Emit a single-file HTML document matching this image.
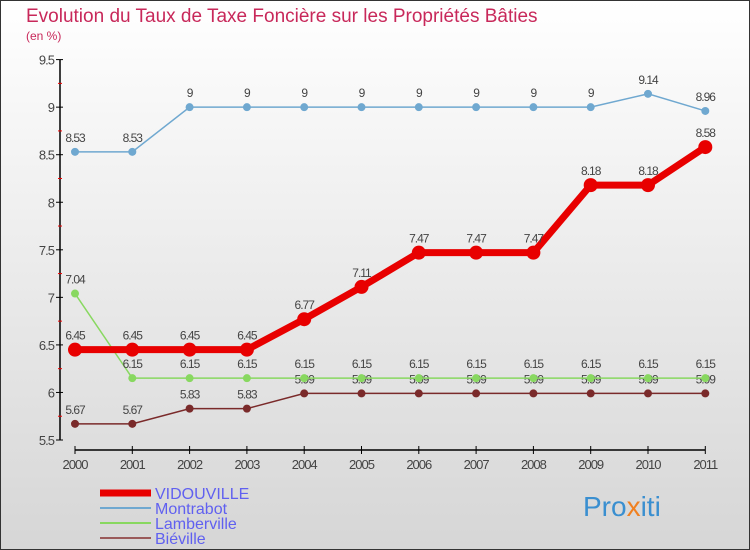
<!DOCTYPE html>
<html><head><meta charset="utf-8"><style>
body{margin:0;}
#c{width:750px;height:550px;position:relative;overflow:hidden;}
text{font-family:"Liberation Sans",sans-serif;}
</style></head><body>
<div id="c">
<svg id="svg" width="750" height="550" xmlns="http://www.w3.org/2000/svg">
<defs><linearGradient id="bg" x1="0" y1="0" x2="0" y2="1"><stop offset="0" stop-color="#ffffff"/><stop offset="1" stop-color="#d6d6d6"/></linearGradient></defs>
<rect x="0.5" y="0.5" width="749" height="549" fill="url(#bg)" stroke="#333"/>
<text x="26" y="22" font-size="19" fill="#c8285a">Evolution du Taux de Taxe Foncière sur les Propriétés Bâties</text>
<text x="26" y="40" font-size="12" fill="#c8285a">(en %)</text>
<g id="axes"></g><g id="series"></g><g id="legend"></g>
<text x="583" y="516" font-size="28" fill="#3a8fd0">Pro<tspan fill="#f08020">x</tspan>iti</text>
</svg></div>
<script>
const years=["2000","2001","2002","2003","2004","2005","2006","2007","2008","2009","2010","2011"];
const yTicks=[5.5,6,6.5,7,7.5,8,8.5,9,9.5];
const vidouville=[6.45,6.45,6.45,6.45,6.77,7.11,7.47,7.47,7.47,8.18,8.18,8.58];
const montrabot=[8.53,8.53,9,9,9,9,9,9,9,9,9.14,8.96];
const lamberville=[7.04,6.15,6.15,6.15,6.15,6.15,6.15,6.15,6.15,6.15,6.15,6.15];
const bieville=[5.67,5.67,5.83,5.83,5.99,5.99,5.99,5.99,5.99,5.99,5.99,5.99];
const NS="http://www.w3.org/2000/svg";
function X(i){return 75+i*57.3;}
function Y(v){return 440-(v-5.5)*95.1;}
function mk(t,a,p){const e=document.createElementNS(NS,t);for(const k in a)e.setAttribute(k,a[k]);p.appendChild(e);return e;}
const ax=document.getElementById('axes');
const yl=mk('line',{x1:60,y1:Y(9.5),x2:60,y2:Y(5.5),stroke:'#000','stroke-width':1.5},ax);


const xl=mk('line',{x1:75,y1:450,x2:X(11),y2:450,stroke:'#000','stroke-width':1.5},ax);


yTicks.forEach((v,i)=>{
 mk('line',{x1:56,y1:Y(v),x2:63,y2:Y(v),stroke:'#000'},ax);
 if(i<yTicks.length-1)mk('line',{x1:58,y1:Y(v+0.25),x2:62,y2:Y(v+0.25),stroke:'#e00'},ax);
 const t=mk('text',{x:54,y:Y(v)+5,'font-size':13,fill:'#444','text-anchor':'end','letter-spacing':'-1'},ax);
 t.textContent=String(v);
 
 
});
years.forEach((y,i)=>{
 mk('line',{x1:X(i),y1:446,x2:X(i),y2:454,stroke:'#000'},ax);
 const t=mk('text',{x:X(i),y:469,'font-size':13,fill:'#444','text-anchor':'middle','letter-spacing':'-1'},ax);
 t.textContent=y;
 
 
});
const sg=document.getElementById('series');
function series(vals,color,lw,r,name){
 const g=mk('g',{},sg);
 
 
 mk('polyline',{points:vals.map((v,i)=>X(i)+','+Y(v)).join(' '),fill:'none',stroke:color,'stroke-width':lw},g);
 vals.forEach((v,i)=>{
  const c=mk('circle',{cx:X(i),cy:Y(v),r:r,fill:color},g);
  
  
  const t=mk('text',{x:X(i),y:Y(v)-10,'font-size':12,fill:'#444','text-anchor':'middle','letter-spacing':'-1'},g);
  t.textContent=String(v);
  
  
 });
}
series(bieville,'#7a2a2a',1.5,4,'bieville');
series(lamberville,'#88d860',1.5,4,'lamberville');
series(montrabot,'#6fa8d0',1.5,4,'montrabot');
series(vidouville,'#e80000',7,7,'vidouville');
const lg=document.getElementById('legend');
const leg=[["VIDOUVILLE","#e80000",7],["Montrabot","#6fa8d0",2],["Lamberville","#88d860",2],["Biéville","#9a5a5a",2]];
leg.forEach((l,i)=>{
 const y=493+i*15;
 const g=mk('g',{},lg);
 
 
 mk('line',{x1:100,y1:y,x2:151,y2:y,stroke:l[1],'stroke-width':l[2]},g);
 const t=mk('text',{x:155,y:y+6,'font-size':16,fill:'#6060f0'},g);
 t.textContent=l[0];
});
</script>
</body></html>
